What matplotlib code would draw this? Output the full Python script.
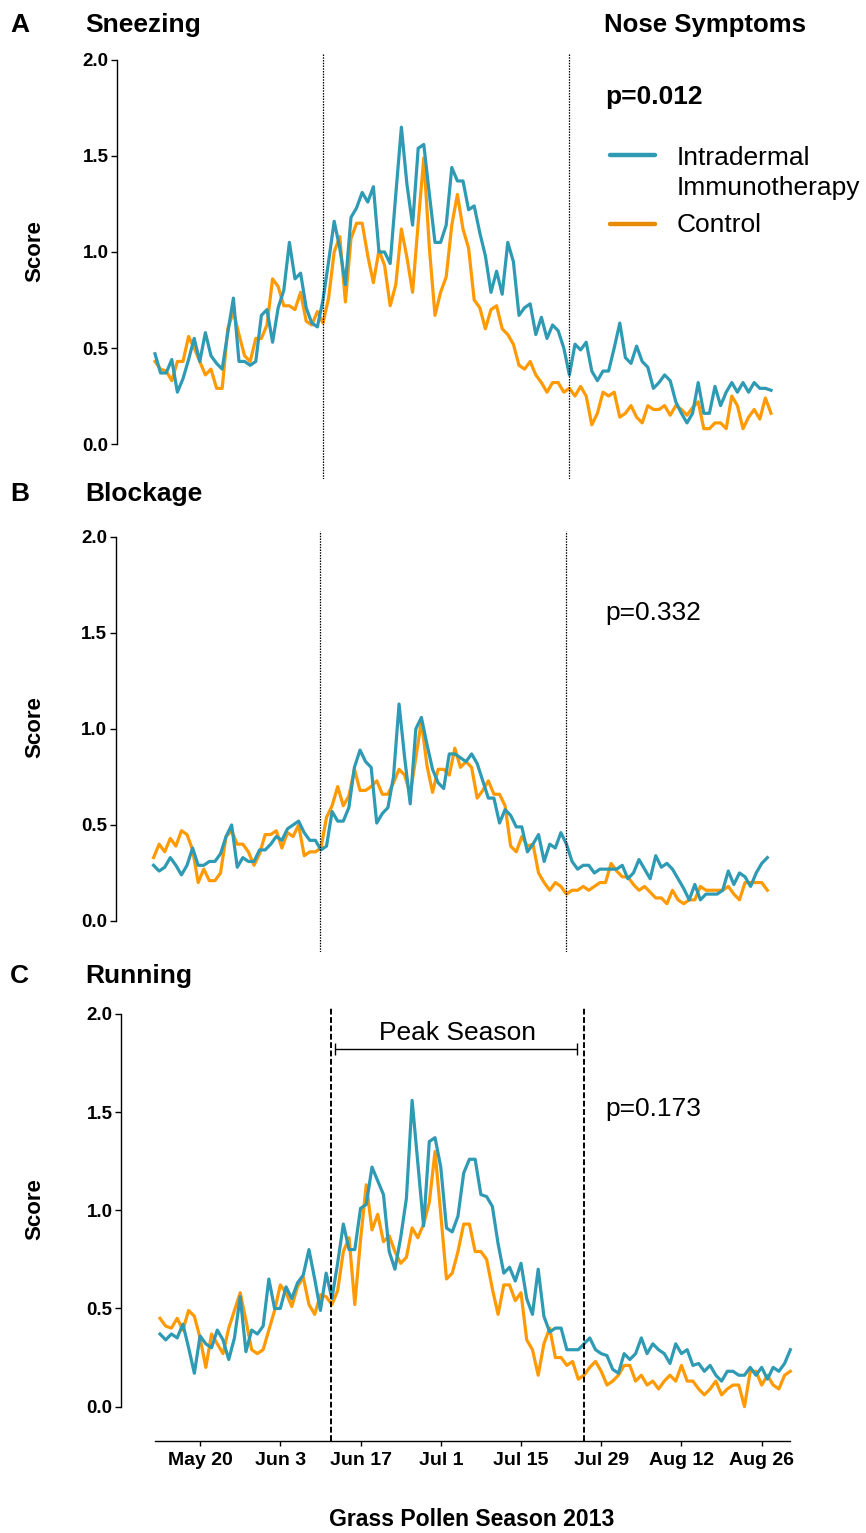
"""Nose symptom scores over the 2013 grass pollen season (3 stacked panels)."""
import matplotlib
matplotlib.use("Agg")
import matplotlib.pyplot as plt
import matplotlib.dates as mdates
import pandas as pd
from matplotlib.lines import Line2D

plt.rcParams["font.family"] = ["Liberation Sans", "DejaVu Sans"]

# ───── Data ────────────────────────────────────────────────────────────────
dates = pd.date_range("2013-05-13", periods=111, freq="D")

sneeze_imm = [
    0.47, 0.37, 0.37, 0.44, 0.27, 0.34, 0.44, 0.55, 0.43, 0.58,
    0.46, 0.42, 0.39, 0.58, 0.76, 0.43, 0.43, 0.41, 0.43, 0.67,
    0.70, 0.53, 0.71, 0.80, 1.05, 0.86, 0.89, 0.71, 0.63, 0.61,
    0.75, 0.95, 1.16, 1.02, 0.83, 1.18, 1.23, 1.31, 1.26, 1.34,
    1.00, 1.00, 0.94, 1.30, 1.65, 1.35, 1.14, 1.54, 1.56, 1.30,
    1.05, 1.05, 1.14, 1.44, 1.37, 1.37, 1.22, 1.24, 1.10, 0.98,
    0.79, 0.90, 0.78, 1.05, 0.95, 0.67, 0.71, 0.73, 0.57, 0.66,
    0.55, 0.62, 0.59, 0.50, 0.36, 0.52, 0.49, 0.53, 0.38, 0.33,
    0.38, 0.38, 0.50, 0.63, 0.45, 0.42, 0.51, 0.43, 0.40, 0.29,
    0.32, 0.36, 0.33, 0.22, 0.16, 0.11, 0.16, 0.32, 0.16, 0.16,
    0.30, 0.20, 0.27, 0.32, 0.27, 0.32, 0.27, 0.32, 0.29, 0.29, 0.28,
]
sneeze_ctl = [
    0.43, 0.39, 0.38, 0.33, 0.43, 0.43, 0.56, 0.50, 0.43, 0.36,
    0.39, 0.29, 0.29, 0.60, 0.69, 0.57, 0.46, 0.43, 0.55, 0.55,
    0.62, 0.86, 0.82, 0.72, 0.72, 0.70, 0.79, 0.64, 0.62, 0.69,
    0.63, 0.76, 1.00, 1.08, 0.74, 1.07, 1.15, 1.15, 0.98, 0.84,
    1.01, 0.93, 0.72, 0.83, 1.12, 0.97, 0.79, 1.15, 1.49, 1.02,
    0.67, 0.79, 0.87, 1.14, 1.30, 1.12, 1.02, 0.75, 0.71, 0.60,
    0.70, 0.72, 0.60, 0.57, 0.52, 0.41, 0.39, 0.43, 0.36, 0.32,
    0.27, 0.32, 0.32, 0.27, 0.29, 0.25, 0.30, 0.25, 0.10, 0.16,
    0.27, 0.25, 0.27, 0.14, 0.16, 0.20, 0.14, 0.11, 0.20, 0.18,
    0.18, 0.20, 0.15, 0.20, 0.18, 0.15, 0.19, 0.22, 0.08, 0.08,
    0.11, 0.11, 0.08, 0.25, 0.20, 0.08, 0.14, 0.18, 0.13, 0.24, 0.16,
]
block_imm = [
    0.29, 0.26, 0.28, 0.33, 0.29, 0.24, 0.29, 0.38, 0.29, 0.29,
    0.31, 0.31, 0.35, 0.44, 0.50, 0.28, 0.33, 0.31, 0.31, 0.37,
    0.37, 0.40, 0.44, 0.42, 0.48, 0.50, 0.52, 0.46, 0.42, 0.42,
    0.37, 0.39, 0.57, 0.52, 0.52, 0.59, 0.80, 0.89, 0.83, 0.80,
    0.51, 0.56, 0.59, 0.75, 1.13, 0.85, 0.61, 1.00, 1.06, 0.92,
    0.79, 0.72, 0.69, 0.87, 0.87, 0.85, 0.83, 0.87, 0.82, 0.73,
    0.64, 0.64, 0.51, 0.58, 0.55, 0.49, 0.49, 0.36, 0.40, 0.45,
    0.31, 0.40, 0.38, 0.46, 0.40, 0.31, 0.27, 0.29, 0.29, 0.25,
    0.27, 0.27, 0.27, 0.27, 0.29, 0.22, 0.25, 0.32, 0.27, 0.22,
    0.34, 0.28, 0.30, 0.27, 0.22, 0.17, 0.11, 0.19, 0.11, 0.14,
    0.14, 0.14, 0.16, 0.26, 0.19, 0.25, 0.23, 0.18, 0.25, 0.30, 0.33,
]
block_ctl = [
    0.33, 0.40, 0.36, 0.43, 0.39, 0.47, 0.45, 0.37, 0.20, 0.27,
    0.21, 0.21, 0.25, 0.44, 0.47, 0.40, 0.40, 0.36, 0.29, 0.35,
    0.45, 0.45, 0.47, 0.38, 0.46, 0.44, 0.50, 0.34, 0.36, 0.36,
    0.38, 0.54, 0.60, 0.70, 0.60, 0.65, 0.79, 0.68, 0.68, 0.70,
    0.73, 0.66, 0.66, 0.72, 0.79, 0.76, 0.66, 0.85, 1.04, 0.81,
    0.67, 0.79, 0.79, 0.76, 0.90, 0.80, 0.83, 0.80, 0.64, 0.68,
    0.73, 0.66, 0.66, 0.60, 0.39, 0.36, 0.44, 0.39, 0.40, 0.25,
    0.20, 0.16, 0.20, 0.18, 0.14, 0.16, 0.16, 0.18, 0.16, 0.18,
    0.20, 0.20, 0.30, 0.26, 0.23, 0.23, 0.19, 0.16, 0.18, 0.15,
    0.12, 0.12, 0.09, 0.16, 0.11, 0.09, 0.11, 0.11, 0.18, 0.16,
    0.16, 0.16, 0.16, 0.18, 0.14, 0.11, 0.20, 0.20, 0.20, 0.20, 0.16,
]
run_imm = [
    0.37, 0.34, 0.37, 0.35, 0.42, 0.30, 0.17, 0.36, 0.32, 0.30,
    0.39, 0.34, 0.24, 0.35, 0.56, 0.28, 0.39, 0.37, 0.41, 0.65,
    0.50, 0.50, 0.61, 0.55, 0.63, 0.67, 0.80, 0.65, 0.49, 0.68,
    0.55, 0.73, 0.93, 0.80, 0.80, 1.01, 1.03, 1.22, 1.15, 1.08,
    0.79, 0.70, 0.86, 1.06, 1.56, 1.24, 0.92, 1.35, 1.37, 1.22,
    0.91, 0.89, 0.97, 1.19, 1.26, 1.26, 1.08, 1.07, 1.02, 0.83,
    0.68, 0.71, 0.64, 0.73, 0.55, 0.47, 0.70, 0.46, 0.38, 0.40,
    0.40, 0.29, 0.29, 0.29, 0.32, 0.35, 0.29, 0.27, 0.26, 0.19,
    0.17, 0.27, 0.24, 0.27, 0.35, 0.27, 0.32, 0.29, 0.27, 0.22,
    0.32, 0.27, 0.29, 0.21, 0.22, 0.18, 0.21, 0.16, 0.13, 0.18,
    0.18, 0.16, 0.16, 0.20, 0.16, 0.20, 0.14, 0.20, 0.18, 0.22, 0.29,
]
run_ctl = [
    0.45, 0.41, 0.40, 0.45, 0.39, 0.49, 0.46, 0.35, 0.20, 0.37,
    0.32, 0.27, 0.40, 0.49, 0.58, 0.44, 0.29, 0.27, 0.29, 0.39,
    0.49, 0.62, 0.58, 0.51, 0.61, 0.66, 0.52, 0.47, 0.57, 0.56,
    0.52, 0.59, 0.79, 0.86, 0.52, 0.85, 1.13, 0.90, 0.98, 0.84,
    0.87, 0.79, 0.73, 0.76, 0.91, 0.86, 0.93, 1.04, 1.30, 0.98,
    0.65, 0.68, 0.79, 0.93, 0.93, 0.79, 0.79, 0.75, 0.60, 0.47,
    0.62, 0.62, 0.54, 0.58, 0.34, 0.29, 0.16, 0.32, 0.40, 0.25,
    0.25, 0.21, 0.23, 0.14, 0.16, 0.20, 0.23, 0.18, 0.11, 0.13,
    0.16, 0.21, 0.21, 0.13, 0.16, 0.11, 0.13, 0.09, 0.13, 0.16,
    0.13, 0.21, 0.13, 0.13, 0.09, 0.06, 0.09, 0.13, 0.06, 0.09,
    0.11, 0.11, 0.00, 0.18, 0.18, 0.11, 0.16, 0.11, 0.09, 0.16, 0.18,
]

panel_letters = ["A", "B", "C"]
panel_titles = ["Sneezing", "Blockage", "Running"]
p_values = ["p=0.012", "p=0.332", "p=0.173"]
x_tick_dates = ["2013-05-20", "2013-06-03", "2013-06-17", "2013-07-01",
                "2013-07-15", "2013-07-29", "2013-08-12", "2013-08-26"]
x_tick_labels = ["May 20", "Jun 3", "Jun 17", "Jul 1",
                 "Jul 15", "Jul 29", "Aug 12", "Aug 26"]
peak_start = pd.Timestamp("2013-06-11 22:00")
peak_end = pd.Timestamp("2013-07-26")

# ───── Style ───────────────────────────────────────────────────────────────
TEAL = "#2E9AB4"
ORANGE = "#FF9A05"
ORANGE_KEY = "#E98A08"
W, H = 866, 1533


def fx(px):
    return px / W


def fy(py):
    return 1 - py / H


def add_panel(left, right, top, bottom):
    return fig.add_axes([fx(left), fy(bottom), fx(right - left), (bottom - top) / H])


def ftext(x, y, s, **kw):
    fig.text(fx(x), fy(y), s, va="baseline", **kw)


fig = plt.figure(figsize=(W / 100, H / 100), dpi=100)

x_lo = dates[0] - pd.Timedelta(days=6.8)
x_hi = dates[0] + pd.Timedelta(days=112)

# pixel boxes: left, right, top, bottom  + ylim
boxes = [
    (116.9, 782.2, 54.2, 478.6, (-0.18, 2.03)),
    (115.6, 778.5, 531.2, 951.7, (-0.16, 2.03)),
    (121.0, 801.8, 1007.5, 1440.6, (-0.173, 2.033)),
]
series = [(sneeze_imm, sneeze_ctl), (block_imm, block_ctl), (run_imm, run_ctl)]
title_base = [32.3, 501, 983]
p_base = [104, 620, 1116]
score_y = [251, 727, 1209]

axes = []
for k, (l, r, t, b, ylim) in enumerate(boxes):
    ax = add_panel(l, r, t, b)
    imm, ctl = series[k]
    ax.plot(dates, ctl, color=ORANGE, lw=2.3)
    ax.plot(dates, imm, color=TEAL, lw=2.3)

    if k < 2:
        for d in (peak_start, peak_end):
            ax.axvline(d, color="black", lw=0.9, ls=(0, (1.2, 1.0)))
    else:
        for d in (peak_start, peak_end):
            ax.axvline(d, color="black", lw=1.4, ls=(0, (3, 1.3)))

    ax.set_xlim(x_lo, x_hi)
    ax.set_ylim(*ylim)
    ax.set_yticks([0.0, 0.5, 1.0, 1.5, 2.0])
    ax.set_yticklabels([f"{v:.1f}" for v in [0.0, 0.5, 1.0, 1.5, 2.0]],
                       fontsize=13.5, fontweight="bold")
    ax.tick_params(axis="y", length=4.5, width=1.0, pad=1.5)
    for s in ("top", "right"):
        ax.spines[s].set_visible(False)
    ax.spines["left"].set_bounds(0, 2)
    ax.spines["left"].set_linewidth(1.0)

    if k < 2:
        ax.spines["bottom"].set_visible(False)
        ax.set_xticks([])
    else:
        ax.spines["bottom"].set_bounds(
            mdates.date2num(dates[0] - pd.Timedelta(days=0.9)),
            mdates.date2num(dates[-1]))
        ax.spines["bottom"].set_linewidth(1.0)
        ax.set_xticks(pd.to_datetime(x_tick_dates))
        ax.set_xticklabels(x_tick_labels, fontsize=14, fontweight="bold")
        ax.tick_params(axis="x", length=3.5, width=1.0, pad=5)

    ftext(10, title_base[k], panel_letters[k], fontsize=19, fontweight="bold")
    ftext(85, title_base[k], panel_titles[k], fontsize=19, fontweight="bold")
    ftext(605, p_base[k], p_values[k], fontsize=19,
          fontweight="bold" if k == 0 else "normal")
    fig.text(fx(35), fy(score_y[k]), "Score", rotation=90, fontsize=16,
             fontweight="bold", ha="center", va="center")
    axes.append(ax)

# Peak season bracket on panel C
axC = axes[2]
br_lo = pd.Timestamp("2013-06-12 12:00")
br_hi = pd.Timestamp("2013-07-24 19:00")
axC.hlines(1.82, br_lo, br_hi, color="black", lw=1.0)
axC.vlines([br_lo, br_hi], 1.79, 1.85, color="black", lw=1.0)
axC.text(pd.Timestamp("2013-07-04"), 1.869, "Peak Season", fontsize=19,
         ha="center", va="baseline")

# Header + legend
ftext(604, 32.3, "Nose Symptoms", fontsize=18.5, fontweight="bold")
fig.add_artist(Line2D([fx(610), fx(655)], [fy(155), fy(155)], color=TEAL,
                      lw=3.2, solid_capstyle="round"))
fig.add_artist(Line2D([fx(610), fx(655)], [fy(224), fy(224)], color=ORANGE_KEY,
                      lw=3.2, solid_capstyle="round"))
ftext(677, 165, "Intradermal", fontsize=19)
ftext(677, 195, "Immunotherapy", fontsize=19)
ftext(677, 232, "Control", fontsize=19)

ftext(472, 1525.5, "Grass Pollen Season 2013", fontsize=16.6, fontweight="bold",
      ha="center")

fig.savefig("out.png", dpi=100)
